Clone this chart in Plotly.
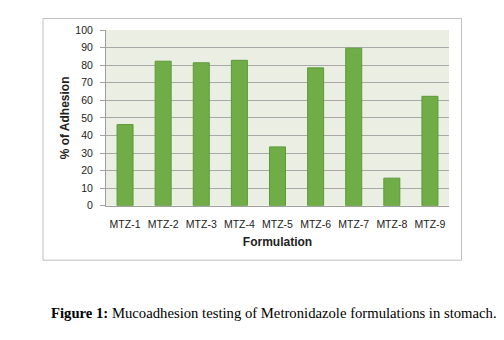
import plotly.graph_objects as go

categories = ["MTZ-1", "MTZ-2", "MTZ-3", "MTZ-4", "MTZ-5", "MTZ-6", "MTZ-7", "MTZ-8", "MTZ-9"]
adhesion = [46.2, 82.3, 81.4, 82.8, 33.5, 78.5, 89.7, 15.7, 62.3]
y_ticks = [0, 10, 20, 30, 40, 50, 60, 70, 80, 90, 100]

W, H = 504, 340
px0, px1 = 106, 449
py_top, py_bot = 25, 207

fig = go.Figure(go.Bar(
    x=categories, y=adhesion, width=0.42,
    marker=dict(color="#70AD47", line=dict(color="#5B9A3A", width=1)),
))

tick_font = dict(family="Liberation Sans, Arial", size=10.5, color="#222222")
fig.update_layout(
    width=W, height=H,
    margin=dict(l=0, r=0, t=0, b=0),
    paper_bgcolor="white",
    plot_bgcolor="#EBEEE3",
    showlegend=False,
    bargap=0.58,
    xaxis=dict(
        domain=[px0 / W, px1 / W],
        showgrid=False, showline=True, linecolor="#A0A0A0", linewidth=1,
        ticks="", tickfont=tick_font, ticklabelstandoff=9,
        title=dict(text="<b>Formulation</b>", font=dict(family="Liberation Sans, Arial", size=12, color="#222222"), standoff=8),
    ),
    yaxis=dict(
        domain=[(H - py_bot) / H, (H - py_top) / H],
        range=[0, 100], tickvals=y_ticks,
        showgrid=True, gridcolor="#A9A9A9", gridwidth=1,
        showline=True, linecolor="#A0A0A0", linewidth=1,
        ticks="outside", ticklen=5, tickcolor="#A0A0A0",
        tickfont=tick_font, ticklabelstandoff=5,
        zeroline=False,
        title=dict(text="<b>% of Adhesion</b>", font=dict(family="Liberation Sans, Arial", size=12, color="#222222"), standoff=3),
    ),
    shapes=[dict(
        type="rect", xref="paper", yref="paper",
        x0=43 / W, x1=461.5 / W, y0=(H - 263.5) / H, y1=(H - 13) / H,
        line=dict(color="#BFBFBF", width=1), fillcolor="rgba(0,0,0,0)", layer="below",
    )],
    annotations=[dict(
        xref="paper", yref="paper", x=273.5 / W, y=(H - 318) / H,
        xanchor="center", yanchor="middle", showarrow=False,
        text="<b>Figure 1:</b> Mucoadhesion testing of Metronidazole formulations in stomach.",
        font=dict(family="Liberation Serif, Times New Roman", size=14.7, color="black"),
    )],
)

fig.write_html("out.html")
